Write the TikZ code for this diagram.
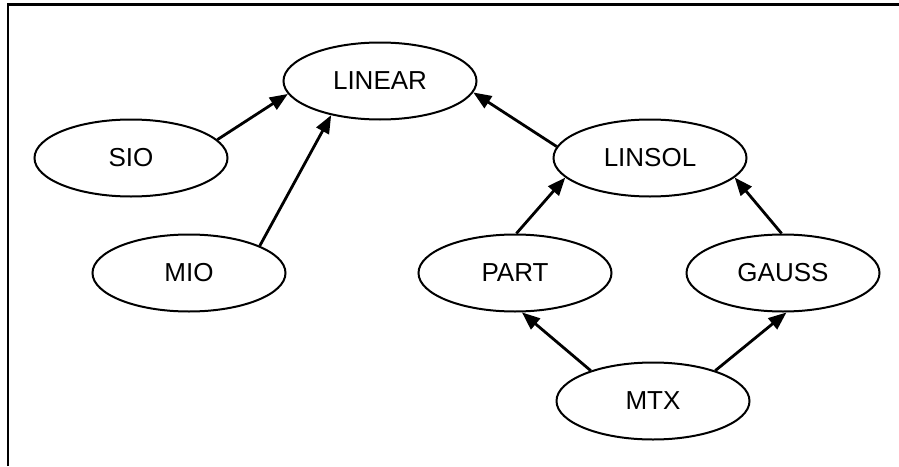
\documentclass[tikz,border=0pt]{standalone}
\usepackage{fontspec}
\setmainfont{Liberation Sans}
\usetikzlibrary{shapes.geometric}
\usetikzlibrary{arrows.meta}
\tikzset{>={Triangle[width=7pt,length=9pt]}}

\begin{document}
\begin{tikzpicture}[x=0.5pt,y=-0.5pt,
  module/.style={draw, ellipse, line width=1pt, minimum width=96.5pt,
    minimum height=38.5pt, inner sep=0pt,
    font=\fontsize{13}{15}\selectfont},
  dep/.style={->, line width=1.4pt}]

  \useasboundingbox (0,0) rectangle (899,466);
  \draw[line width=1.1pt] (8,466) -- (8,4.5) -- (899,4.5);

  \node[module] (linear) at (380,81) {LINEAR};
  \node[module] (sio) at (131,158) {SIO};
  \node[module] (mio) at (189,273) {MIO};
  \node[module] (linsol) at (650,158) {LINSOL};
  \node[module] (part) at (515,273) {PART};
  \node[module] (gauss) at (783,273) {GAUSS};
  \node[module] (mtx) at (653,401) {MTX};

  \draw[dep] (sio.12) -- (linear.188); %% SIO -> LINEAR
  \draw[dep] (mio.21) -- (linear.215); %% MIO -> LINEAR
  \draw[dep] (linsol.173) -- (linear.353); %% LINSOL -> LINEAR

  \draw[dep] (part.88) -- (linsol.193); %% PART -> LINSOL
  \draw[dep] (gauss.92) -- (linsol.347); %% GAUSS -> LINSOL

  \draw[dep] (mtx.154) -- (part.280); %% MTX -> PART
  \draw[dep] (mtx.26) -- (gauss.275); %% MTX -> GAUSS

\end{tikzpicture}
\end{document}
